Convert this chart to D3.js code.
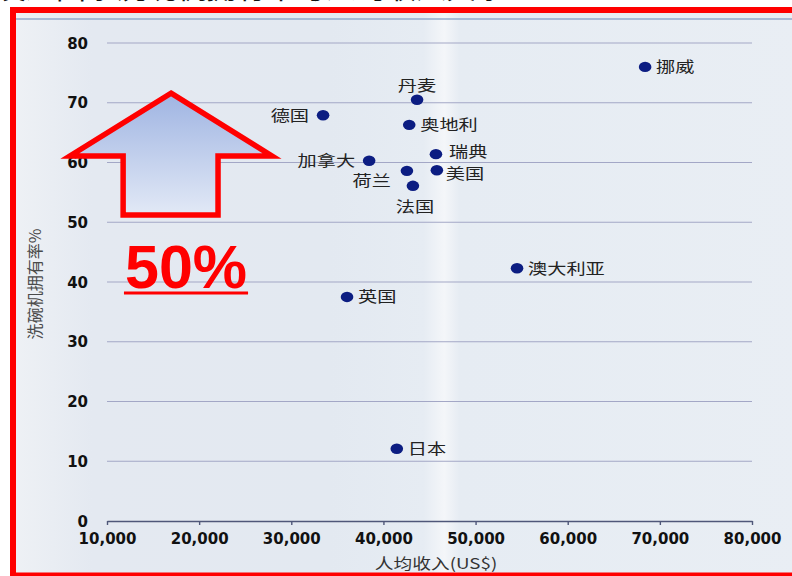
<!DOCTYPE html>
<html><head><meta charset="utf-8">
<script src="https://cdn.jsdelivr.net/npm/d3@7"></script>
<style>html,body{margin:0;padding:0;background:#fff;overflow:hidden}</style>
</head><body>
<svg id="c" width="792" height="576"></svg>
<script>
// ---- data ----
const countries = ["挪威","丹麦","奥地利","瑞典","美国","荷兰","法国","加拿大","德国","澳大利亚","英国","日本"];
const income    = [68400, 43650, 42800, 45700, 45800, 42550, 43200, 38450, 33450, 54500, 36050, 41450];
const ownership = [76.0, 70.5, 66.3, 61.4, 58.7, 58.6, 56.1, 60.3, 67.9, 42.3, 37.5, 12.1];
const xTicks = [10000,20000,30000,40000,50000,60000,70000,80000];
const yTicks = [0,10,20,30,40,50,60,70,80];
const xTitle = "人均收入(US$)";
const yTitle = "洗碗机拥有率%";
const noteText = "50%";
const topTitle = "发达国家洗碗机拥有率与人均收入关系";
// arrow annotation outline in data units (income, ownership)
const arrowX = [16950, 27900, 22050, 22050, 11750, 11750, 5980];
const arrowY = [71.6, 61.1, 61.1, 51.2, 51.2, 61.1, 61.1];

// label placement (style)
const labelSide = {"挪威":"right","丹麦":"top","奥地利":"right","瑞典":"rightup","美国":"rightdown","荷兰":"lowleft","法国":"bottom","加拿大":"left","德国":"left","澳大利亚":"right","英国":"right","日本":"right"};

const svg = d3.select("#c");
const x = d3.scaleLinear().domain([10000,80000]).range([107,752]);
const y = d3.scaleLinear().domain([0,80]).range([521,43]);

const defs = svg.append("defs");
const bg = defs.append("linearGradient").attr("id","bg").attr("x1","0").attr("x2","1").attr("y1","0").attr("y2","0");
[["0%","#eef1f5"],["10%","#e4e9f1"],["40%","#e3e9f1"],["52%","#e6ecf3"],["54.6%","#f4f6f9"],["56.5%","#e6ecf3"],["100%","#e9eef4"]]
  .forEach(s=>bg.append("stop").attr("offset",s[0]).attr("stop-color",s[1]));
const ag = defs.append("linearGradient").attr("id","ag").attr("x1","0").attr("x2","0").attr("y1","0").attr("y2","1");
[["0%","#9fb4e2"],["100%","#e2e9f6"]].forEach(s=>ag.append("stop").attr("offset",s[0]).attr("stop-color",s[1]));

// top clipped title
svg.append("text").attr("x",-4).attr("y",-2).attr("font-family","Noto Sans CJK SC").attr("font-weight","normal")
  .attr("font-size",30).attr("fill","#111").text(topTitle);

// background
svg.append("rect").attr("x",13).attr("y",10).attr("width",790).attr("height",566).attr("fill","url(#bg)");
svg.append("line").attr("x1",16).attr("x2",792).attr("y1",19).attr("y2",19).attr("stroke","#7f97c2").attr("stroke-width",1.5).attr("opacity",0.8);

// gridlines
svg.append("g").selectAll("line").data(yTicks.filter(d=>d>0)).join("line")
  .attr("x1",x(10000)).attr("x2",x(80000)).attr("y1",d=>y(d)).attr("y2",d=>y(d))
  .attr("stroke","#a3a7c6").attr("stroke-width",1.2);

// x axis
const xa = svg.append("g").attr("transform",`translate(0,${y(0)})`)
  .call(d3.axisBottom(x).tickValues(xTicks).tickFormat(d3.format(",")).tickSize(4).tickSizeOuter(0));
xa.select(".domain").attr("stroke","#4f5779").attr("stroke-width",1.6);
xa.selectAll(".tick line").attr("stroke","#4f5779").attr("stroke-width",1.4);
xa.selectAll(".tick text").attr("y",23).attr("dy",0).attr("font-family","DejaVu Sans").attr("font-weight","bold")
  .attr("font-size",15).attr("fill","#111");

// y tick labels
svg.append("g").selectAll("text").data(yTicks).join("text")
  .attr("x",88).attr("y",d=>y(d)+5.5).attr("text-anchor","end")
  .attr("font-family","DejaVu Sans").attr("font-weight","bold").attr("font-size",15).attr("fill","#111")
  .text(d=>d);

// axis titles
svg.append("text").attr("transform",`translate(41,284) rotate(-90)`).attr("text-anchor","middle")
  .attr("font-family","Noto Sans CJK SC").attr("font-size",16).attr("fill","#4a4a4a").text(yTitle);
svg.append("text").attr("transform",`translate(436,569) scale(1.25,1)`).attr("text-anchor","middle")
  .attr("font-family","Noto Sans CJK SC").attr("font-size",15).attr("fill","#333").text(xTitle);

// points
const pts = countries.map((c,i)=>({name:c, inc:income[i], own:ownership[i]}));
svg.append("g").selectAll("ellipse").data(pts).join("ellipse")
  .attr("cx",d=>x(d.inc)).attr("cy",d=>y(d.own)).attr("rx",6.3).attr("ry",5.2).attr("fill","#0c1d82");

const off = {right:[11,5.5,"start"], rightup:[13,3,"start"], rightdown:[9,9,"start"], left:[-14,5.5,"end"], top:[0,-9,"middle"], bottom:[2,26,"middle"], lowleft:[-16,15,"end"]};
svg.append("g").selectAll("text").data(pts).join("text")
  .attr("transform",d=>{const o=off[labelSide[d.name]];return `translate(${x(d.inc)+o[0]},${y(d.own)+o[1]}) scale(1.28,1)`;})
  .attr("text-anchor",d=>off[labelSide[d.name]][2])
  .attr("font-family","Noto Sans CJK SC").attr("font-size",15).attr("fill","#222")
  .text(d=>d.name);

// arrow annotation
const arrowPts = arrowX.map((v,i)=>[x(v),y(arrowY[i])]);
svg.append("path").attr("d",d3.line()(arrowPts)+"Z").attr("fill","url(#ag)")
  .attr("stroke","#ff0000").attr("stroke-width",5.5).attr("stroke-linejoin","miter");

// 50% note
const nt = svg.append("text").attr("x",x(11950)).attr("y",y(39.0)).attr("font-family","Liberation Sans")
  .attr("font-weight","bold").attr("font-size",61).attr("fill","#ff0000").text(noteText);
const bb = nt.node().getBBox();
svg.append("line").attr("x1",bb.x-1).attr("x2",bb.x+bb.width+1).attr("y1",y(39.0)+5).attr("y2",y(39.0)+5)
  .attr("stroke","#ff0000").attr("stroke-width",3);

// red frame
svg.append("rect").attr("x",13).attr("y",10).attr("width",800).attr("height",565.5)
  .attr("fill","none").attr("stroke","#ff0000").attr("stroke-width",6);
</script>
</body></html>
